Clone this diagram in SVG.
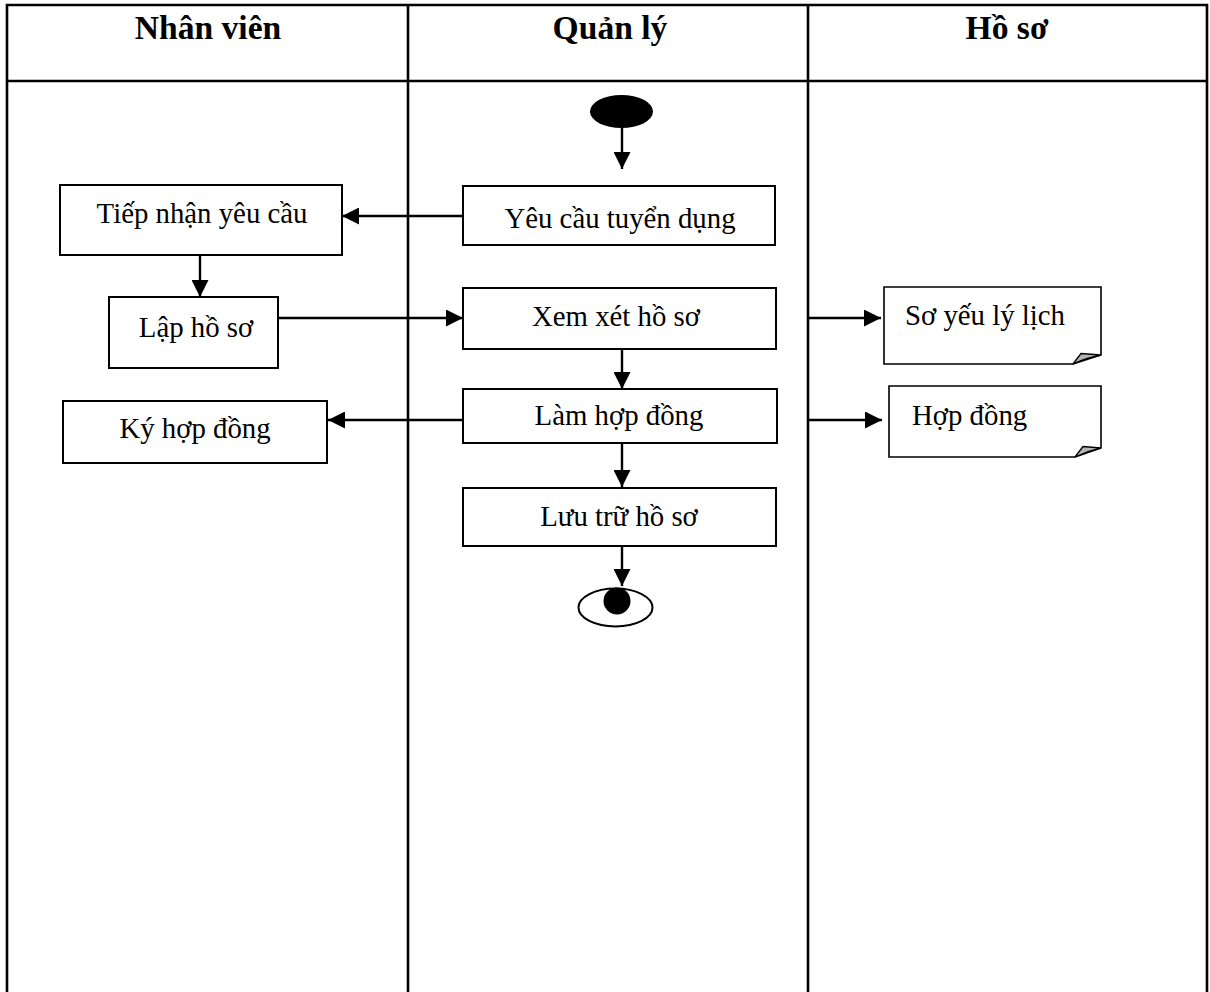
<svg xmlns="http://www.w3.org/2000/svg" width="1210" height="992" viewBox="0 0 1210 992">
  <style>
    .lane { fill: none; stroke: #000; stroke-width: 2.6; }
    .head { font-family: "Liberation Serif", "Times New Roman", serif; font-weight: bold; font-size: 33.6px; fill: #000; text-anchor: middle; }
    .box { fill: #fff; stroke: #000; stroke-width: 2; }
    .doc { fill: #fff; stroke: #000; stroke-width: 1.6; }
    .fold { fill: #b4b4b4; stroke: #000; stroke-width: 1.3; }
    .label { font-family: "Liberation Serif", "Times New Roman", serif; font-size: 28.8px; fill: #000; text-anchor: middle; }
    .label-start { font-family: "Liberation Serif", "Times New Roman", serif; font-size: 28.8px; fill: #000; }
    .flow { fill: none; stroke: #000; stroke-width: 2.4; marker-end: url(#arrow); }
  </style>
  <defs>
    <marker id="arrow" viewBox="0 0 16 16" refX="16" refY="8" markerWidth="17" markerHeight="17" markerUnits="userSpaceOnUse" orient="auto">
      <path d="M0,0 L16,8 L0,16 Z" fill="#000"/>
    </marker>
  </defs>

  <rect width="1210" height="992" fill="#fff"/>

  <!-- swimlane table -->
  <g id="lanes">
    <path class="lane" d="M7,1000 V5 H1207 V1000"/>
    <line class="lane" x1="7" y1="81" x2="1207" y2="81"/>
    <line class="lane" x1="408" y1="5" x2="408" y2="1000"/>
    <line class="lane" x1="808" y1="5" x2="808" y2="1000"/>
    <text class="head" x="208" y="39">Nhân viên</text>
    <text class="head" x="610" y="39">Quản lý</text>
    <text class="head" x="1007" y="39">Hồ sơ</text>
  </g>

  <!-- connectors -->
  <g id="connectors">
    <line class="flow" x1="622" y1="128" x2="622" y2="169"/>
    <line class="flow" x1="463" y1="216" x2="342" y2="216"/>
    <line class="flow" x1="200" y1="255" x2="200" y2="297"/>
    <line class="flow" x1="278" y1="318" x2="463" y2="318"/>
    <line class="flow" x1="808" y1="318" x2="881" y2="318"/>
    <line class="flow" x1="622" y1="349" x2="622" y2="389"/>
    <line class="flow" x1="463" y1="420" x2="328" y2="420"/>
    <line class="flow" x1="808" y1="420" x2="882" y2="420"/>
    <line class="flow" x1="622" y1="443" x2="622" y2="487"/>
    <line class="flow" x1="622" y1="546" x2="622" y2="586"/>
  </g>

  <!-- start node -->
  <g id="start">
    <ellipse cx="621.5" cy="111.5" rx="31.5" ry="16.5" fill="#000"/>
  </g>

  <g id="yeu-cau-tuyen-dung">
    <rect class="box" x="463" y="186" width="312" height="59"/>
    <text class="label" x="620" y="228">Yêu cầu tuyển dụng</text>
  </g>

  <g id="tiep-nhan-yeu-cau">
    <rect class="box" x="60" y="185" width="282" height="70"/>
    <text class="label" x="202" y="223">Tiếp nhận yêu cầu</text>
  </g>

  <g id="lap-ho-so">
    <rect class="box" x="109" y="297" width="169" height="71"/>
    <text class="label" x="196" y="337">Lập hồ sơ</text>
  </g>

  <g id="xem-xet-ho-so">
    <rect class="box" x="463" y="288" width="313" height="61"/>
    <text class="label" x="616" y="326">Xem xét hồ sơ</text>
  </g>

  <g id="lam-hop-dong">
    <rect class="box" x="463" y="389" width="314" height="54"/>
    <text class="label" x="619" y="425">Làm hợp đồng</text>
  </g>

  <g id="ky-hop-dong">
    <rect class="box" x="63" y="401" width="264" height="62"/>
    <text class="label" x="195" y="438">Ký hợp đồng</text>
  </g>

  <g id="luu-tru-ho-so">
    <rect class="box" x="463" y="488" width="313" height="58"/>
    <text class="label" x="619" y="526">Lưu trữ hồ sơ</text>
  </g>

  <!-- document: Sơ yếu lý lịch -->
  <g id="so-yeu-ly-lich">
    <path class="doc" d="M884,287 H1101 V355 L1073,364 H884 Z"/>
    <path class="fold" d="M1073,364 L1081,353.5 L1101,355 Q1086,358 1073,364 Z"/>
    <text class="label-start" x="905" y="325">Sơ yếu lý lịch</text>
  </g>

  <!-- document: Hợp đồng -->
  <g id="hop-dong">
    <path class="doc" d="M889,386 H1101 V448 L1075,457 H889 Z"/>
    <path class="fold" d="M1075,457 L1083,446.5 L1101,448 Q1088,451 1075,457 Z"/>
    <text class="label-start" x="912" y="425">Hợp đồng</text>
  </g>

  <!-- end node -->
  <g id="end">
    <ellipse cx="615.5" cy="607.5" rx="37" ry="19" fill="#fff" stroke="#000" stroke-width="2"/>
    <circle cx="617" cy="601" r="13.5" fill="#000"/>
  </g>
</svg>
